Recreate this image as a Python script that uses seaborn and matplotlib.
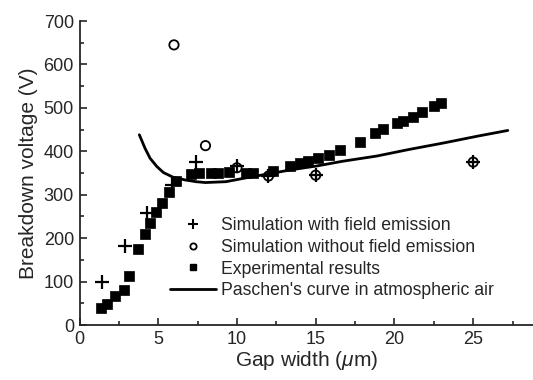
import matplotlib
matplotlib.use('Agg')
import matplotlib.pyplot as plt
from matplotlib.lines import Line2D
from matplotlib.ticker import MultipleLocator
import seaborn as sns
import pandas as pd

# ── Data ─────────────────────────────────────────────────────
exp_gap = [1.36, 1.74, 2.28, 2.81, 3.17, 3.70, 4.13, 4.45, 4.83, 5.26, 5.68, 6.11,
           7.06, 7.60, 8.34, 8.77, 9.51, 10.57, 11.0, 12.28, 13.34, 13.98, 14.51,
           15.15, 15.85, 16.53, 17.81, 18.77, 19.30, 20.15, 20.53, 21.21, 21.74,
           22.49, 22.96]
exp_volt = [40, 48, 67, 81, 113, 174, 210, 234, 261, 282, 307, 331,
            347, 349, 350, 350, 352, 349, 350, 354, 366, 373, 377,
            385, 392, 404, 421, 442, 451, 464, 469, 480, 490,
            505, 511]

fe_gap = [1.4, 2.9, 4.3, 5.9, 7.4, 10.0, 12.0, 15.0, 25.0]
fe_volt = [100, 182, 258, 322, 375, 366, 343, 345, 375]

nofe_gap = [6.0, 8.0, 10.0, 12.0, 15.0, 25.0]
nofe_volt = [645, 413, 362, 343, 345, 375]

paschen_gap = [3.80, 4.16, 4.48, 4.91, 5.33, 5.96, 6.71, 7.4, 8.0, 9.3, 10.6,
               12.3, 13.55, 15.04, 16.7, 18.87, 20.9, 23.1, 25.3, 27.2]
paschen_volt = [438, 407, 384, 365, 351, 340, 334, 330, 328, 330, 339,
                350, 358, 366, 377, 389, 404, 419, 435, 448]

labels = ['Simulation with field emission', 'Simulation without field emission',
          'Experimental results', "Paschen's curve in atmospheric air"]

sns.set_style('ticks')
plt.rcParams['font.family'] = ['Liberation Sans', 'DejaVu Sans']
plt.rcParams['mathtext.fontset'] = 'custom'
plt.rcParams['mathtext.it'] = 'Liberation Sans:italic'

fig = plt.figure(figsize=(5.33, 3.8), dpi=100)
ax = fig.add_axes([79.5 / 533, 1 - 325 / 380, 1 - 79.5 / 533, 304 / 380])

df_exp = pd.DataFrame({'gap': exp_gap, 'volt': exp_volt})
df_fe = pd.DataFrame({'gap': fe_gap, 'volt': fe_volt})
df_nofe = pd.DataFrame({'gap': nofe_gap, 'volt': nofe_volt})
df_pas = pd.DataFrame({'gap': paschen_gap, 'volt': paschen_volt})

sns.lineplot(data=df_pas, x='gap', y='volt', ax=ax, color='black', lw=2.0,
             sort=False, estimator=None)
sns.scatterplot(data=df_exp, x='gap', y='volt', ax=ax, marker='s', s=48,
                color='black', edgecolor='black', linewidth=0.5)
sns.scatterplot(data=df_nofe, x='gap', y='volt', ax=ax, marker='o', s=45,
                facecolor='none', edgecolor='black', linewidth=1.3)
sns.scatterplot(data=df_fe, x='gap', y='volt', ax=ax, marker='+', s=90,
                color='black', linewidth=1.6)

ax.set_xlim(0, 28.8)
ax.set_ylim(0, 700)
ax.xaxis.set_major_locator(MultipleLocator(5))
ax.xaxis.set_minor_locator(MultipleLocator(2.5))
ax.yaxis.set_major_locator(MultipleLocator(100))
ax.yaxis.set_minor_locator(MultipleLocator(50))
ax.tick_params(which='major', direction='in', length=5, width=1.2, labelsize=13, pad=4)
ax.tick_params(which='minor', direction='in', length=3, width=1.2)
for side in ['top', 'right']:
    ax.spines[side].set_visible(False)
for side in ['left', 'bottom']:
    ax.spines[side].set_linewidth(1.3)

ax.set_xlabel(r'Gap width ($\mu$m)', fontsize=15, labelpad=1)
ax.set_ylabel('Breakdown voltage (V)', fontsize=15, labelpad=4)

handles = [
    Line2D([], [], ls='none', marker='+', color='black', ms=6.5, mew=1.5),
    Line2D([], [], ls='none', marker='o', mfc='none', mec='black', ms=4.5, mew=1.3),
    Line2D([], [], ls='none', marker='s', color='black', ms=5),
    Line2D([], [], color='black', lw=2.0),
]
ax.legend(handles, labels, loc='lower left', bbox_to_anchor=(0.2, 0.085),
          frameon=False, fontsize=12.7, handlelength=2.6, handletextpad=0.3,
          labelspacing=0.26, borderpad=0, borderaxespad=0)

fig.savefig('out.png', dpi=100)
